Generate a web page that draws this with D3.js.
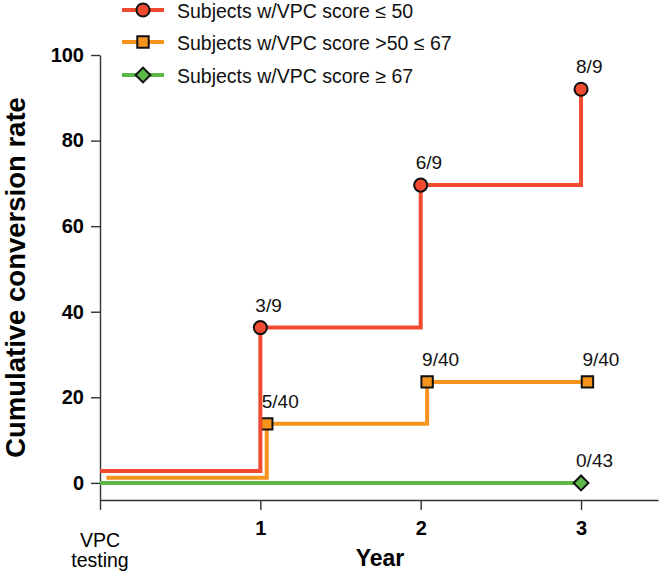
<!DOCTYPE html>
<html>
<head>
<meta charset="utf-8">
<script src="https://cdn.jsdelivr.net/npm/d3@7"></script>
<style>
  body { margin: 0; background: #fff; }
  text { font-family: "Liberation Sans", Arial, Helvetica, sans-serif; }
</style>
</head>
<body>
<div id="chart"></div>
<script>
// series (small offsets at baseline keep the lines apart)
const seriesNames = ["Subjects w/VPC score \u2264 50", "Subjects w/VPC score >50 \u2264 67", "Subjects w/VPC score \u2265 67"];
const redYears = [0, 1, 2, 3];
const redRates = [2.8, 36.3, 69.6, 92];
const redLabels = ["", "3/9", "6/9", "8/9"];
const orangeYears = [0.04, 1.04, 2.04, 3.04];
const orangeRates = [1.2, 13.8, 23.6, 23.6];
const orangeLabels = ["", "5/40", "9/40", "9/40"];
const greenYears = [0, 3];
const greenRates = [0, 0];
const greenLabels = ["", "0/43"];
const yTicks = [0, 20, 40, 60, 80, 100];
const xTicks = [0, 1, 2, 3];

const width = 660, height = 573;
const margin = {left: 100, right: 2, top: 55, bottom: 73};

const colors = ["#f04a30", "#f7941d", "#5cb947"];
const shapes = [d3.symbolCircle, d3.symbolSquare, d3.symbolSquare];
const sizes = [135, 130, 110];
const rotations = [0, 0, 45];

const series = [
  {years: redYears, rates: redRates, labels: redLabels},
  {years: orangeYears, rates: orangeRates, labels: orangeLabels},
  {years: greenYears, rates: greenRates, labels: greenLabels}
];

const svg = d3.select("#chart").append("svg")
  .attr("width", width)
  .attr("height", height);

const x = d3.scaleLinear().domain([0, 3.48]).range([margin.left, width - margin.right]);
const y = d3.scaleLinear().domain([-4, 100]).range([height - margin.bottom, margin.top]);

// axes
const yAxis = svg.append("g")
  .attr("transform", `translate(${margin.left},0)`)
  .call(d3.axisLeft(y).tickValues(yTicks).tickSize(9).tickPadding(7).tickSizeOuter(0));
yAxis.selectAll("text").style("font-size", "20px").style("font-weight", "bold").attr("fill", "#000");

const xAxis = svg.append("g")
  .attr("transform", `translate(0,${height - margin.bottom})`)
  .call(d3.axisBottom(x).tickValues(xTicks).tickSize(10).tickPadding(11).tickSizeOuter(0)
    .tickFormat(d => d === 0 ? "" : d));
xAxis.selectAll("text").style("font-size", "20px").style("font-weight", "bold").attr("fill", "#000");
svg.selectAll(".domain, .tick line").attr("stroke", "#333").attr("stroke-width", 1.4);

svg.append("text")
  .attr("x", x(0)).attr("y", 547)
  .attr("text-anchor", "middle")
  .style("font-size", "19.5px")
  .text("VPC");
svg.append("text")
  .attr("x", x(0)).attr("y", 567)
  .attr("text-anchor", "middle")
  .style("font-size", "19.5px")
  .text("testing");

svg.append("text")
  .attr("x", 380).attr("y", 566)
  .attr("text-anchor", "middle")
  .style("font-size", "23px").style("font-weight", "bold")
  .text("Year");

svg.append("text")
  .attr("transform", `translate(25,${(y(-4) + y(100)) / 2}) rotate(-90)`)
  .attr("text-anchor", "middle")
  .style("font-size", "27.5px").style("font-weight", "bold")
  .text("Cumulative conversion rate");

// step lines
const line = d3.line()
  .x(d => x(d[0]))
  .y(d => y(d[1]))
  .curve(d3.curveStepAfter);

const drawOrder = [2, 1, 0];
drawOrder.forEach(i => {
  const s = series[i];
  const pts = s.years.map((yr, j) => [yr, s.rates[j], s.labels[j]]);
  svg.append("path")
    .datum(pts)
    .attr("d", line)
    .attr("fill", "none")
    .attr("stroke", colors[i])
    .attr("stroke-width", 4);

  const marks = pts.filter((p, j) => j > 0);
  svg.selectAll(null)
    .data(marks)
    .enter()
    .append("path")
    .attr("d", d3.symbol().type(shapes[i]).size(sizes[i]))
    .attr("transform", d => `translate(${x(d[0])},${y(d[1])}) rotate(${rotations[i]})`)
    .attr("fill", colors[i])
    .attr("stroke", "#111")
    .attr("stroke-width", 2);

  svg.selectAll(null)
    .data(marks)
    .enter()
    .append("text")
    .attr("x", d => x(d[0]) - 5)
    .attr("y", d => y(d[1]) - 16)
    .style("font-size", "19px")
    .attr("fill", "#111")
    .text(d => d[2]);
});

// legend
const legend = svg.append("g");
const legendY = [10, 42, 75];
seriesNames.forEach((name, i) => {
  const g = legend.append("g").attr("transform", `translate(0,${legendY[i]})`);
  g.append("line")
    .attr("x1", 122).attr("x2", 164)
    .attr("stroke", colors[i]).attr("stroke-width", 4);
  g.append("path")
    .attr("d", d3.symbol().type(shapes[i]).size(sizes[i]))
    .attr("transform", `translate(143,0) rotate(${rotations[i]})`)
    .attr("fill", colors[i])
    .attr("stroke", "#111")
    .attr("stroke-width", 2);
  g.append("text")
    .attr("x", 177).attr("y", 8)
    .style("font-size", "19.5px")
    .attr("fill", "#111")
    .text(name);
});
</script>
</body>
</html>
